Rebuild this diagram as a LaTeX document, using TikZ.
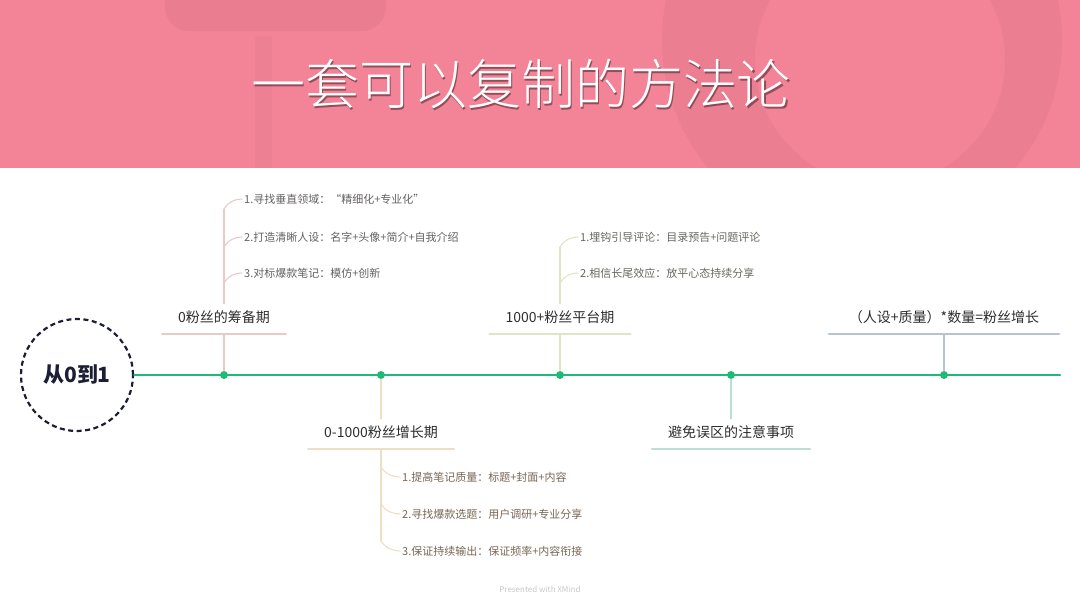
\documentclass[tikz,border=0pt]{standalone}
\usepackage{fontspec}
\setmainfont{Noto Sans CJK SC}
\newfontfamily\titlefont{Noto Sans CJK SC Light}
\usetikzlibrary{calc}
\definecolor{headpink}{RGB}{243,131,150}
\definecolor{tlgreen}{RGB}{32,186,120}
\definecolor{hubnavy}{RGB}{28,30,52}
\definecolor{rose}{RGB}{232,202,202}
\definecolor{sand}{RGB}{240,222,196}
\definecolor{olive}{RGB}{226,228,198}
\definecolor{mint}{RGB}{188,222,212}
\definecolor{slate}{RGB}{182,196,210}
\definecolor{labelgray}{RGB}{45,45,45}
\definecolor{leafrose}{RGB}{100,96,96}
\definecolor{leafsand}{RGB}{120,102,84}
\definecolor{leafolive}{RGB}{104,104,96}

\begin{document}
\begin{tikzpicture}[x=1pt,y=-1pt,line cap=round,line join=round,
  hub/.style={circle,draw=hubnavy,line width=2.2pt,line cap=butt,dash pattern=on 5pt off 3.5pt,
    minimum size=112pt,inner sep=0pt,text=hubnavy,font=\fontsize{21}{24}\selectfont\bfseries},
  dot/.style={circle,fill=tlgreen,inner sep=0pt,minimum size=8pt},
  topic/.style={inner xsep=16pt,inner ysep=8pt,text height=11pt,text depth=3pt,
    text=labelgray,font=\fontsize{14}{16}\selectfont},
  leaf/.style={anchor=west,inner xsep=2pt,font=\fontsize{11}{13}\selectfont}]
  \useasboundingbox (0,0) rectangle (1080,607);
  \fill[headpink] (0,0) rectangle (1080,168);
  \begin{scope}
    \clip (0,0) rectangle (1080,168);
    \fill[black,opacity=0.035,rounded corners=24pt] (165,-40) rectangle (386,31);
    \fill[black,opacity=0.02] (255,36) rectangle (272,168);
    \fill[black,opacity=0.03,even odd rule] (862,40) circle (200) (880,60) circle (125);
  \end{scope}
  \node[text=black,opacity=0.4,font=\titlefont\fontsize{54}{60}\selectfont] (titleshadow) at (522.5,86) {一套可以复制的方法论};
  \node[text=white,font=\titlefont\fontsize{54}{60}\selectfont] (title) at (521,84) {一套可以复制的方法论};
  \node[hub] (hub) at (77,375) {从0到1};
  \coordinate (lineend) at (1060,375);
  \draw[tlgreen,line width=2.2pt] (hub) -- (lineend);
  \node[dot] (d1) at (224,375) {};
  \node[dot] (d2) at (381,375) {};
  \node[dot] (d3) at (560,375) {};
  \node[dot] (d4) at (731,375) {};
  \node[dot] (d5) at (944,375) {};
  \node[topic,anchor=south] (t1) at (224,334) {0粉丝的筹备期};
  \draw[rose,line width=1.8pt] (t1.south west) -- (t1.south east);
  \draw[rose,line width=1.4pt] (d1) -- (t1.south);
  \node[leaf,text=leafrose] (l11) at (242,199) {1.寻找垂直领域：“精细化+专业化”};
  \node[leaf,text=leafrose] (l12) at (242,237) {2.打造清晰人设：名字+头像+简介+自我介绍};
  \node[leaf,text=leafrose] (l13) at (242,273) {3.对标爆款笔记：模仿+创新};
  \coordinate (j11) at ($(t1.north |- l11.west)+(0,10)$);
  \draw[rose,line width=1.4pt] (t1.north) -- (j11);
  \foreach \c in {l11,l12,l13}
    \draw[rose,line width=1.1pt] ($(t1.north |- \c.west)+(0,10)$) .. controls +(5,-8) and +(-6,0) .. (\c.west);
  \node[topic,anchor=south] (t2) at (381,449) {0-1000粉丝增长期};
  \draw[sand,line width=1.8pt] (t2.south west) -- (t2.south east);
  \draw[sand,line width=1.4pt] (d2) -- (t2.north);
  \node[leaf,text=leafsand] (l21) at (400,477) {1.提高笔记质量：标题+封面+内容};
  \node[leaf,text=leafsand] (l22) at (400,514) {2.寻找爆款选题：用户调研+专业分享};
  \node[leaf,text=leafsand] (l23) at (400,551) {3.保证持续输出：保证频率+内容衔接};
  \coordinate (j23) at ($(t2.south |- l23.west)+(0,-10)$);
  \draw[sand,line width=1.4pt] (t2.south) -- (j23);
  \foreach \c in {l21,l22,l23}
    \draw[sand,line width=1.1pt] ($(t2.south |- \c.west)+(0,-10)$) .. controls +(5,8) and +(-6,0) .. (\c.west);
  \node[topic,anchor=south] (t3) at (560,334) {1000+粉丝平台期};
  \draw[olive,line width=1.8pt] (t3.south west) -- (t3.south east);
  \draw[olive,line width=1.4pt] (d3) -- (t3.south);
  \node[leaf,text=leafolive] (l31) at (578,237) {1.埋钩引导评论：目录预告+问题评论};
  \node[leaf,text=leafolive] (l32) at (578,273) {2.相信长尾效应：放平心态持续分享};
  \coordinate (j31) at ($(t3.north |- l31.west)+(0,10)$);
  \draw[olive,line width=1.4pt] (t3.north) -- (j31);
  \foreach \c in {l31,l32}
    \draw[olive,line width=1.1pt] ($(t3.north |- \c.west)+(0,10)$) .. controls +(5,-8) and +(-6,0) .. (\c.west);
  \node[topic,anchor=south] (t4) at (731,449) {避免误区的注意事项};
  \draw[mint,line width=1.8pt] (t4.south west) -- (t4.south east);
  \draw[mint,line width=1.4pt] (d4) -- (t4.north);
  \node[topic,anchor=south,inner xsep=20pt] (t5) at (944,334) {（人设+质量）*数量=粉丝增长};
  \draw[slate,line width=1.8pt] (t5.south west) -- (t5.south east);
  \draw[slate,line width=1.4pt] (d5) -- (t5.south);
  \node[text=black!22,font=\fontsize{8}{10}\selectfont] (credit) at (540,589) {Presented with XMind};
\end{tikzpicture}
\end{document}
